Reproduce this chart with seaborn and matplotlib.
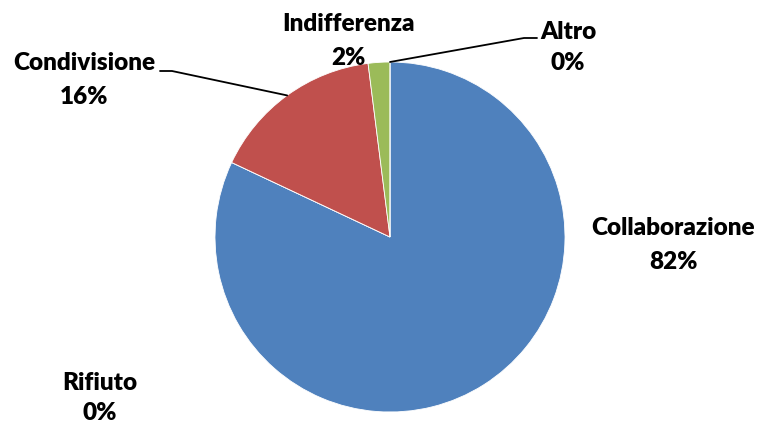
import numpy as np
import matplotlib
matplotlib.use("Agg")
import matplotlib.pyplot as plt
import seaborn as sns

categories = ["Collaborazione", "Rifiuto", "Condivisione", "Indifferenza", "Altro"]
values = [82, 0, 16, 2, 0]
pct_labels = ["82%", "0%", "16%", "2%", "0%"]
colors = ["#4F81BD", "#8064A2", "#C0504D", "#9BBB59", "#4BACC6"]

sns.set_theme(style="white")
plt.rcParams['font.family'] = ['Lato', 'DejaVu Sans']

W, H = 758, 423
fig = plt.figure(figsize=(W / 100, H / 100), dpi=100)
ax = fig.add_axes([0, 0, 1, 1])
ax.set_xlim(0, W)
ax.set_ylim(0, H)
ax.set_aspect("equal")
ax.axis("off")

cx, cy, R = 390, H - 237, 175
wedges, _ = ax.pie(values, colors=colors, startangle=90, counterclock=False,
                   center=(cx, cy), radius=R, frame=True,
                   wedgeprops=dict(edgecolor="white", linewidth=0.6))
ax.set_xlim(0, W)
ax.set_ylim(0, H)
ax.axis("off")

FS = 17.5
# label anchor positions (pixels from top-left): name line center, pct line center
label_pos = {
    "Collaborazione": (673, 228, 262),
    "Rifiuto": (100, 383, 413),
    "Condivisione": (84, 63, 97),
    "Indifferenza": (348, 24, 58),
    "Altro": (568, 32, 63),
}
for cat, pct in zip(categories, pct_labels):
    x, y1, y2 = label_pos[cat]
    ax.text(x, H - y1, cat, ha="center", va="center", fontsize=FS,
            fontweight="heavy", color="black")
    ax.text(x, H - y2, pct, ha="center", va="center", fontsize=FS,
            fontweight="heavy", color="black")

# leader lines
def edge_point(w):
    mid = np.deg2rad((w.theta1 + w.theta2) / 2)
    return cx + R * np.cos(mid), cy + R * np.sin(mid)

leaders = {
    "Condivisione": [(160, 71), (172, 71)],
    "Altro": [(537, 38), (524, 38)],
}
for cat, pts in leaders.items():
    w = wedges[categories.index(cat)]
    ex, ey = edge_point(w)
    xs = [p[0] for p in pts] + [ex]
    ys = [H - p[1] for p in pts] + [ey]
    ax.plot(xs, ys, color="black", linewidth=1.3)

fig.savefig("out.png", dpi=100)
